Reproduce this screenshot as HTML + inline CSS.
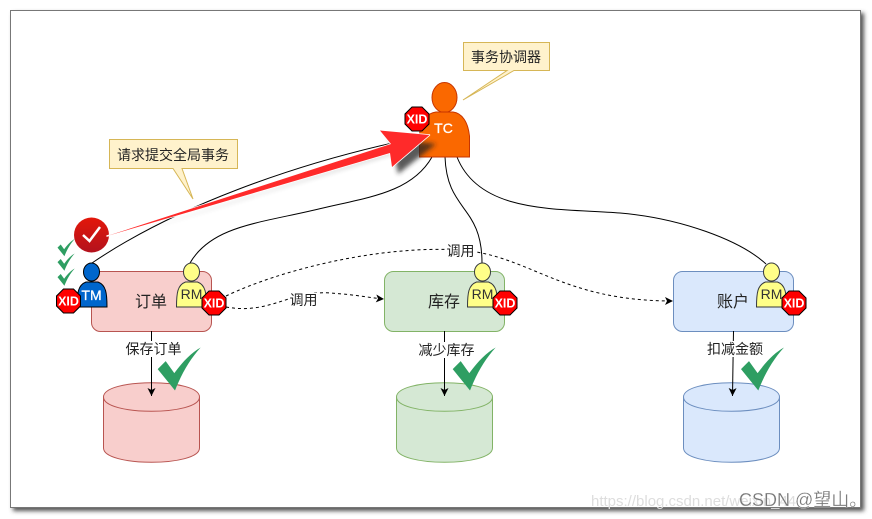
<!DOCTYPE html>
<html><head><meta charset="utf-8"><style>
html,body{margin:0;padding:0;background:#fff}
svg{display:block}
text{font-family:"Liberation Sans","Noto Sans CJK SC",sans-serif}
</style></head><body>
<svg xmlns="http://www.w3.org/2000/svg" width="872" height="519" viewBox="0 0 872 519">
<defs>
<filter id="fs" x="-5%" y="-5%" width="110%" height="110%"><feGaussianBlur stdDeviation="2"/></filter>
<filter id="as" x="-10%" y="-30%" width="120%" height="160%"><feGaussianBlur stdDeviation="2.500"/></filter>
<linearGradient id="rg" x1="0" y1="0" x2="0" y2="1"><stop offset="0" stop-color="#e3170a"/><stop offset="1" stop-color="#b3121d"/></linearGradient>
<g id="xid"><polygon points="-5,-12 5,-12 12,-5 12,5 5,12 -5,12 -12,5 -12,-5" fill="#f00" stroke="#000" stroke-width="1"/><text x="0" y="4.500" text-anchor="middle" font-size="12.500" font-weight="bold" fill="#fff">XID</text></g>
<path id="body" d="M0 26 C0 12 1 4 9 1 L21 1 C29 4 30 12 30 26 Z"/>
<path id="chk" d="M0 21.6 L8 13.6 L16.6 25.6 C26 13 34 5 43 0 C32 12 24 26 17.3 43 Z"/>
<marker id="ah" markerWidth="9" markerHeight="8" refX="8" refY="4" orient="auto" markerUnits="userSpaceOnUse"><path d="M0 0 L8 4 L0 8 L2 4 Z" fill="#000"/></marker>
</defs>
<rect x="13" y="13" width="851" height="498" fill="#555" filter="url(#fs)"/>
<rect x="10.500" y="10.500" width="850" height="497" fill="#fff" stroke="#777" stroke-width="1"/>

<g fill="none" stroke="#000" stroke-width="1">
<path d="M92 263 C170 210 290 163 425 136"/>
<path d="M190 263 C212 225 262 223 323 208 C370 197 412 192 432 157"/>
<path d="M445 157 C447 212 482 205 482 263"/>
<path d="M457 157 C480 215 560 208 620 213 C680 218 740 240 766 264"/>
<path d="M226 296 C280 270 380 245 460 250 C530 255 560 301 673 301" stroke-dasharray="3 3" marker-end="url(#ah)"/>
<path d="M226 307 C270 315 290 290 330 293 C360 295 370 298 384 299" stroke-dasharray="3 3" marker-end="url(#ah)"/>
</g>

<rect x="91.500" y="271.500" width="120" height="60" rx="9" fill="#f8cecc" stroke="#b85450"/>
<rect x="384.500" y="271.500" width="120" height="60" rx="9" fill="#d5e8d4" stroke="#82b366"/>
<rect x="673.500" y="271.500" width="120" height="60" rx="9" fill="#dae8fc" stroke="#6c8ebf"/>
<text x="151" y="307" text-anchor="middle" font-size="16" fill="#222">订单</text>
<text x="444" y="307" text-anchor="middle" font-size="16" fill="#222">库存</text>
<text x="733" y="307" text-anchor="middle" font-size="16" fill="#222">账户</text>

<g>
<path d="M103.500 397 C103.500 378 199.500 378 199.500 397 L199.500 448 C199.500 467 103.500 467 103.500 448 Z" fill="#f8cecc" stroke="#b85450"/>
<path d="M103.500 397 C103.500 416 199.500 416 199.500 397" fill="none" stroke="#b85450"/>
<path d="M396.500 397 C396.500 378 492.500 378 492.500 397 L492.500 448 C492.500 467 396.500 467 396.500 448 Z" fill="#d5e8d4" stroke="#82b366"/>
<path d="M396.500 397 C396.500 416 492.500 416 492.500 397" fill="none" stroke="#82b366"/>
<path d="M683.500 397 C683.500 378 779.500 378 779.500 397 L779.500 448 C779.500 467 683.500 467 683.500 448 Z" fill="#dae8fc" stroke="#6c8ebf"/>
<path d="M683.500 397 C683.500 416 779.500 416 779.500 397" fill="none" stroke="#6c8ebf"/>
</g>

<g stroke="#000" fill="none">
<path d="M151.500 331 V396" marker-end="url(#ah)"/>
<path d="M444.500 331 V396" marker-end="url(#ah)"/>
<path d="M733.500 331 L732.500 396" marker-end="url(#ah)"/>
</g>
<g font-size="14" text-anchor="middle" fill="#222">
<rect x="125" y="341" width="58" height="16" fill="#fff"/><text x="153.500" y="354">保存订单</text>
<rect x="418" y="342" width="58" height="16" fill="#fff"/><text x="446.500" y="355">减少库存</text>
<rect x="706" y="341" width="58" height="16" fill="#fff"/><text x="735" y="354">扣减金额</text>
<rect x="288" y="293" width="31" height="15" fill="#fff"/><text x="303.500" y="305">调用</text>
<rect x="446" y="243" width="30" height="15" fill="#fff"/><text x="460.500" y="256">调用</text>
</g>

<g fill="#2e9e62">
<use href="#chk" x="157.700" y="347.500"/>
<use href="#chk" x="452.700" y="347.500"/>
<use href="#chk" x="741" y="347.500"/>
<use href="#chk" transform="translate(57.500 239) scale(.4)"/>
<use href="#chk" transform="translate(57.500 253.500) scale(.4)"/>
<use href="#chk" transform="translate(57.500 268.500) scale(.4)"/>
</g>

<g stroke="#000" stroke-width="1">
<ellipse cx="91.500" cy="272" rx="8" ry="9" fill="#0066cc"/>
<use href="#body" x="77" y="281" fill="#0066cc"/>
<ellipse cx="191.500" cy="272" rx="8" ry="9" fill="#ffff88" stroke="#36393d"/>
<use href="#body" x="176.500" y="281" fill="#ffff88" stroke="#36393d"/>
<ellipse cx="482.500" cy="272" rx="8" ry="9" fill="#ffff88" stroke="#36393d"/>
<use href="#body" x="467.500" y="281" fill="#ffff88" stroke="#36393d"/>
<ellipse cx="771.500" cy="272" rx="8" ry="9" fill="#ffff88" stroke="#36393d"/>
<use href="#body" x="756.500" y="281" fill="#ffff88" stroke="#36393d"/>
</g>
<text x="91.500" y="300" text-anchor="middle" font-size="14" fill="#fff" stroke="#fff" stroke-width=".3">TM</text>
<g font-size="14" text-anchor="middle" fill="#333">
<text x="191.500" y="299">RM</text><text x="482.500" y="299">RM</text><text x="771.500" y="299">RM</text>
</g>
<use href="#xid" x="68.500" y="301"/>
<use href="#xid" x="214" y="303"/>
<use href="#xid" x="505" y="303"/>
<use href="#xid" x="794" y="303"/>

<ellipse cx="444.500" cy="97.500" rx="12.500" ry="15" fill="#fa6800" stroke="#c73500"/>
<path d="M419.500 157 L419.500 136 C420 120 428 113 436 112 L453 112 C462 113 468 122 469.500 136 L469.500 157 Z" fill="#fa6800" stroke="#c73500"/>
<text x="443.500" y="133" text-anchor="middle" font-size="14" fill="#fff" stroke="#fff" stroke-width=".3">TC</text>
<use href="#xid" x="417" y="119"/>

<path d="M463.500 42.500 H549.500 V70.500 H514 L463 100 L507 70.500 H463.500 Z" fill="#fff2cc" stroke="#d6b656"/>
<text x="506" y="62" text-anchor="middle" font-size="14" fill="#222">事务协调器</text>
<path d="M109.500 139.500 H237.500 V168.500 H182 L193 199 L173 168.500 H109.500 Z" fill="#fff2cc" stroke="#d6b656"/>
<text x="173" y="160" text-anchor="middle" font-size="14" fill="#222">请求提交全局事务</text>

<polygon points="110,240 394,153 398,174 436,144 388,138 398,151" fill="#222" opacity=".75" filter="url(#as)"/>
<circle cx="91.500" cy="235" r="17.500" fill="url(#rg)"/>
<path d="M83 235 L89.500 241 L100 227" fill="none" stroke="#fff" stroke-width="2.500"/>
<polygon points="107,236 391,144 380,130.500 429.500,135 392,167 390,153" fill="#fff" stroke="#fff" stroke-width="1.500" stroke-linejoin="round"/>
<polygon points="107,236 391,144 380,130.500 429.500,135 392,167 390,153" fill="#ff2a2a"/>

<text x="591" y="506" font-size="15" fill="#ddd">https://blog.csdn.net/weixin_44</text>
<text x="739" y="506" font-size="18" fill="#777" stroke="#fff" stroke-width=".2">CSDN @望山。</text>
</svg>
</body></html>
